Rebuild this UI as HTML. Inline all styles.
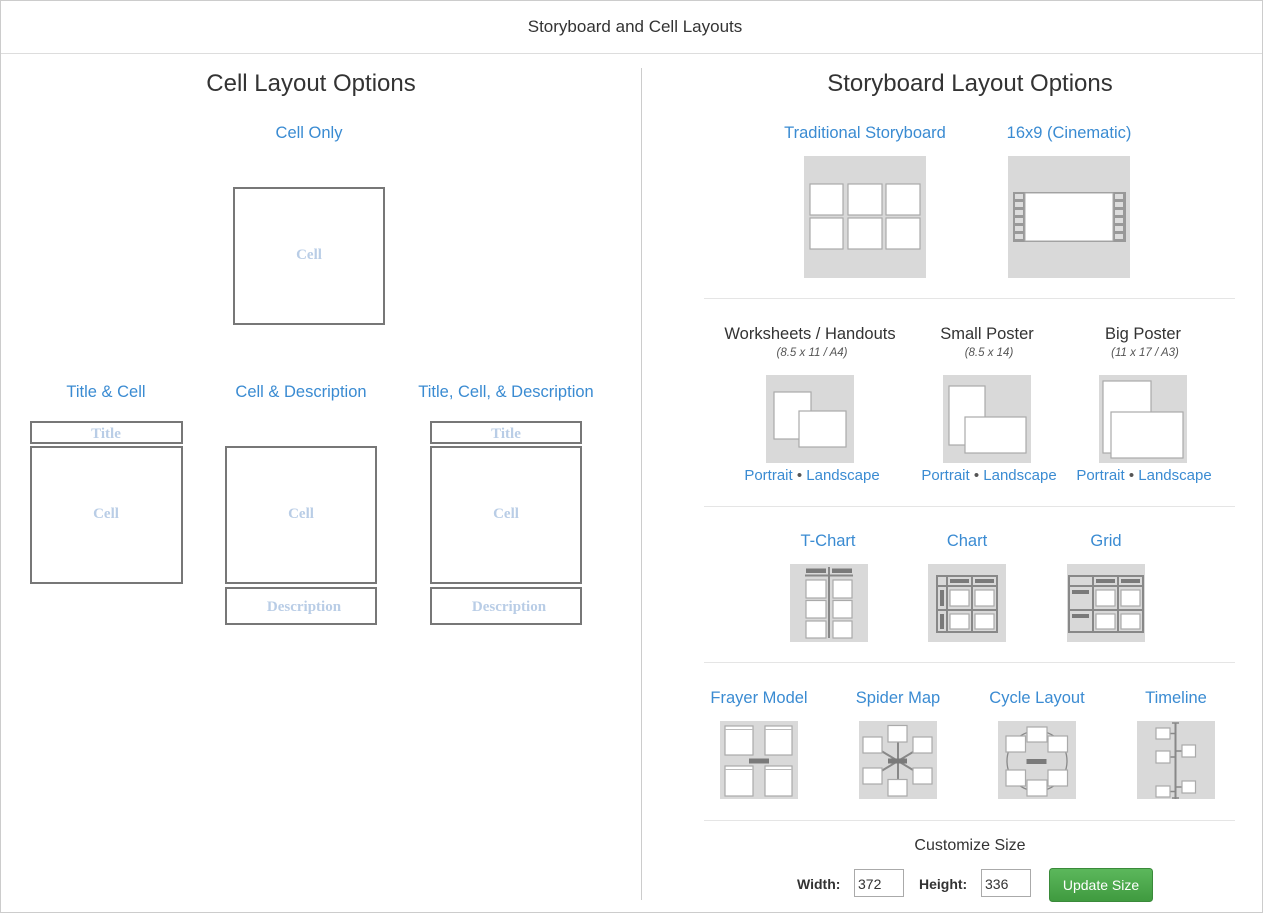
<!DOCTYPE html>
<html><head><meta charset="utf-8"><style>
html,body{margin:0;padding:0;background:#fff;}
svg{display:block;font-family:"Liberation Sans",sans-serif;}
.b{fill:#3a8bd2;font-size:16.5px;text-anchor:middle;}
.d{fill:#333;text-anchor:middle;}
.cl{fill:none;stroke:#777;stroke-width:2;}
.ct{fill:#b9cde6;font-family:"Liberation Serif",serif;font-weight:bold;font-size:15px;text-anchor:middle;}
.bg{fill:#d9d9d9;}
.w{fill:#fff;stroke:#aaa;stroke-width:1.2;}
.dk{fill:#7a7a7a;}
.ln{stroke:#888;stroke-width:2;fill:none;}
</style></head><body>
<svg width="1263" height="913" viewBox="0 0 1263 913">
<rect x="0.5" y="0.5" width="1262" height="912" fill="#fff" stroke="#ccc"/>
<line x1="1" y1="53.5" x2="1262" y2="53.5" stroke="#ddd"/>
<text x="635" y="32" class="d" style="font-size:17px">Storyboard and Cell Layouts</text>
<line x1="641.5" y1="68" x2="641.5" y2="900" stroke="#ccc"/>

<text x="311" y="91" class="d" style="font-size:24px">Cell Layout Options</text>
<text x="309" y="138" class="b">Cell Only</text>
<rect x="234" y="188" width="150" height="136" class="cl"/><text x="309" y="259" class="ct">Cell</text>

<text x="106" y="397" class="b">Title &amp; Cell</text>
<rect x="31" y="422" width="151" height="21" class="cl"/><text x="106" y="438" class="ct">Title</text>
<rect x="31" y="447" width="151" height="136" class="cl"/><text x="106" y="518" class="ct">Cell</text>

<text x="301" y="397" class="b">Cell &amp; Description</text>
<rect x="226" y="447" width="150" height="136" class="cl"/><text x="301" y="518" class="ct">Cell</text>
<rect x="226" y="588" width="150" height="36" class="cl"/><text x="304" y="611" class="ct">Description</text>

<text x="506" y="397" class="b">Title, Cell, &amp; Description</text>
<rect x="431" y="422" width="150" height="21" class="cl"/><text x="506" y="438" class="ct">Title</text>
<rect x="431" y="447" width="150" height="136" class="cl"/><text x="506" y="518" class="ct">Cell</text>
<rect x="431" y="588" width="150" height="36" class="cl"/><text x="509" y="611" class="ct">Description</text>

<text x="970" y="91" class="d" style="font-size:24px">Storyboard Layout Options</text>
<text x="865" y="138" class="b">Traditional Storyboard</text>
<text x="1069" y="138" class="b">16x9 (Cinematic)</text>
<rect x="804" y="156" width="122" height="122" class="bg"/>
<g class="w"><rect x="810" y="184" width="33" height="31"/><rect x="848" y="184" width="34" height="31"/><rect x="886" y="184" width="34" height="31"/>
<rect x="810" y="218" width="33" height="31"/><rect x="848" y="218" width="34" height="31"/><rect x="886" y="218" width="34" height="31"/></g>
<rect x="1008" y="156" width="122" height="122" class="bg"/>
<rect x="1013" y="192" width="113" height="50" fill="#999"/>
<g fill="#ddd"><rect x="1015" y="194" width="8" height="5"/><rect x="1015" y="202" width="8" height="5"/><rect x="1015" y="210" width="8" height="5"/><rect x="1015" y="218" width="8" height="5"/><rect x="1015" y="226" width="8" height="5"/><rect x="1015" y="234" width="8" height="5"/>
<rect x="1115" y="194" width="8" height="5"/><rect x="1115" y="202" width="8" height="5"/><rect x="1115" y="210" width="8" height="5"/><rect x="1115" y="218" width="8" height="5"/><rect x="1115" y="226" width="8" height="5"/><rect x="1115" y="234" width="8" height="5"/></g>
<rect x="1025" y="193" width="88" height="48" fill="#fff" stroke="#aaa"/>

<line x1="704" y1="298.5" x2="1235" y2="298.5" stroke="#e5e5e5"/>

<text x="810" y="339" class="d" style="font-size:16.5px">Worksheets / Handouts</text>
<text x="812" y="356" class="d" style="font-size:11.5px;font-style:italic;fill:#555">(8.5 x 11 / A4)</text>
<text x="987" y="339" class="d" style="font-size:16.5px">Small Poster</text>
<text x="989" y="356" class="d" style="font-size:11.5px;font-style:italic;fill:#555">(8.5 x 14)</text>
<text x="1143" y="339" class="d" style="font-size:16.5px">Big Poster</text>
<text x="1145" y="356" class="d" style="font-size:11.5px;font-style:italic;fill:#555">(11 x 17 / A3)</text>
<rect x="766" y="375" width="88" height="88" class="bg"/>
<rect x="774" y="392" width="37" height="47" class="w"/><rect x="799" y="411" width="47" height="36" class="w"/>
<rect x="943" y="375" width="88" height="88" class="bg"/>
<rect x="949" y="386" width="36" height="59" class="w"/><rect x="965" y="417" width="61" height="36" class="w"/>
<rect x="1099" y="375" width="88" height="88" class="bg"/>
<rect x="1103" y="381" width="48" height="72" class="w"/><rect x="1111" y="412" width="72" height="46" class="w"/>
<text x="812" y="480" class="b" style="font-size:15px">Portrait <tspan fill="#555">•</tspan> Landscape</text>
<text x="989" y="480" class="b" style="font-size:15px">Portrait <tspan fill="#555">•</tspan> Landscape</text>
<text x="1144" y="480" class="b" style="font-size:15px">Portrait <tspan fill="#555">•</tspan> Landscape</text>

<line x1="704" y1="506.5" x2="1235" y2="506.5" stroke="#e5e5e5"/>

<text x="828" y="546" class="b">T-Chart</text>
<text x="967" y="546" class="b">Chart</text>
<text x="1106" y="546" class="b">Grid</text>
<g transform="translate(790,564)">
<rect width="78" height="78" class="bg"/>
<rect x="16" y="4.5" width="20" height="4.5" class="dk"/><rect x="42" y="4.5" width="20" height="4.5" class="dk"/>
<line x1="15" y1="11.5" x2="63" y2="11.5" class="ln"/><line x1="39" y1="3" x2="39" y2="74" class="ln"/>
<g class="w"><rect x="16" y="16" width="20" height="18"/><rect x="43" y="16" width="19" height="18"/>
<rect x="16" y="36.5" width="20" height="17.5"/><rect x="43" y="36.5" width="19" height="17.5"/>
<rect x="16" y="57" width="20" height="17"/><rect x="43" y="57" width="19" height="17"/></g>
</g>
<g transform="translate(928,564)">
<rect width="78" height="78" class="bg"/>
<rect x="9" y="12" width="60" height="56" fill="none" stroke="#888" stroke-width="2"/>
<line x1="19" y1="12" x2="19" y2="68" class="ln"/><line x1="44" y1="12" x2="44" y2="68" class="ln"/>
<line x1="9" y1="22" x2="69" y2="22" class="ln"/><line x1="9" y1="46" x2="69" y2="46" class="ln"/>
<rect x="22" y="15" width="19" height="4" class="dk"/><rect x="47" y="15" width="19" height="4" class="dk"/>
<rect x="12" y="26" width="4" height="16" class="dk"/><rect x="12" y="50" width="4" height="15" class="dk"/>
<g class="w"><rect x="22" y="26" width="19" height="16"/><rect x="47" y="26" width="19" height="16"/><rect x="22" y="50" width="19" height="15"/><rect x="47" y="50" width="19" height="15"/></g>
</g>
<g transform="translate(1067,564)">
<rect width="78" height="78" class="bg"/>
<rect x="2" y="12" width="74" height="56" fill="none" stroke="#888" stroke-width="2"/>
<line x1="26" y1="12" x2="26" y2="68" class="ln"/><line x1="51" y1="12" x2="51" y2="68" class="ln"/>
<line x1="2" y1="22" x2="76" y2="22" class="ln"/><line x1="2" y1="46" x2="76" y2="46" class="ln"/>
<rect x="29" y="15" width="19" height="4" class="dk"/><rect x="54" y="15" width="19" height="4" class="dk"/>
<rect x="5" y="26" width="17" height="4" class="dk"/><rect x="5" y="50" width="17" height="4" class="dk"/>
<g class="w"><rect x="29" y="26" width="19" height="16"/><rect x="54" y="26" width="19" height="16"/><rect x="29" y="50" width="19" height="15"/><rect x="54" y="50" width="19" height="15"/></g>
</g>

<line x1="704" y1="662.5" x2="1235" y2="662.5" stroke="#e5e5e5"/>

<text x="759" y="703" class="b">Frayer Model</text>
<text x="898" y="703" class="b">Spider Map</text>
<text x="1037" y="703" class="b">Cycle Layout</text>
<text x="1176" y="703" class="b">Timeline</text>
<g transform="translate(720,721)">
<rect width="78" height="78" class="bg"/>
<g class="w"><rect x="5" y="5" width="28" height="29"/><rect x="45" y="5" width="27" height="29"/><rect x="5" y="45" width="28" height="30"/><rect x="45" y="45" width="27" height="30"/></g>
<g stroke="#bbb"><line x1="5" y1="8.5" x2="33" y2="8.5"/><line x1="45" y1="8.5" x2="72" y2="8.5"/><line x1="5" y1="48.5" x2="33" y2="48.5"/><line x1="45" y1="48.5" x2="72" y2="48.5"/></g>
<rect x="29" y="37.5" width="20" height="5" class="dk"/>
</g>
<g transform="translate(859,721)">
<rect width="78" height="78" class="bg"/>
<g class="ln"><line x1="39" y1="12" x2="39" y2="68"/><line x1="14" y1="25" x2="64" y2="55"/><line x1="14" y1="55" x2="64" y2="25"/></g>
<rect x="29" y="37.5" width="19" height="5" class="dk"/>
<g class="w"><rect x="29" y="4.5" width="19" height="16.5"/><rect x="29" y="58.5" width="19" height="16.5"/>
<rect x="4" y="16" width="19" height="16"/><rect x="4" y="47" width="19" height="16"/><rect x="54" y="16" width="19" height="16"/><rect x="54" y="47" width="19" height="16"/></g>
</g>
<g transform="translate(998,721)">
<rect width="78" height="78" class="bg"/>
<circle cx="39" cy="40" r="30" fill="none" stroke="#888" stroke-width="1.3"/>
<rect x="28.5" y="38" width="20" height="5" class="dk"/>
<g class="w"><rect x="29" y="6" width="20" height="15"/><rect x="29" y="59" width="20" height="16"/>
<rect x="8" y="15" width="19.5" height="16"/><rect x="8" y="49" width="19.5" height="16"/><rect x="50" y="15" width="19.5" height="16"/><rect x="50" y="49" width="19.5" height="16"/></g>
</g>
<g transform="translate(1137,721)">
<rect width="78" height="78" class="bg"/>
<line x1="38.5" y1="2" x2="38.5" y2="78" stroke="#888" stroke-width="2"/>
<line x1="35" y1="2" x2="42" y2="2" stroke="#888" stroke-width="1.5"/><line x1="35" y1="77" x2="42" y2="77" stroke="#888" stroke-width="1.5"/>
<g stroke="#888" stroke-width="1.5"><line x1="33" y1="12.5" x2="39" y2="12.5"/><line x1="33" y1="36" x2="39" y2="36"/><line x1="33" y1="70.5" x2="39" y2="70.5"/><line x1="39" y1="30" x2="45" y2="30"/><line x1="39" y1="66" x2="45" y2="66"/></g>
<g class="w"><rect x="19" y="7" width="14" height="11"/><rect x="19" y="30" width="14" height="12"/><rect x="19" y="65" width="14" height="11"/><rect x="45" y="24" width="13.5" height="12"/><rect x="45" y="60" width="13.5" height="12"/></g>
</g>

<line x1="704" y1="820.5" x2="1235" y2="820.5" stroke="#e5e5e5"/>
<text x="970" y="850" class="d" style="font-size:16px">Customize Size</text>
<text x="797" y="889" style="font-size:14px;font-weight:bold;fill:#333">Width:</text>
<rect x="854.5" y="869.5" width="49" height="27" fill="#fff" stroke="#aaa"/>
<text x="858" y="889" style="font-size:14px;fill:#333">372</text>
<text x="919" y="889" style="font-size:14px;font-weight:bold;fill:#333">Height:</text>
<rect x="981.5" y="869.5" width="49" height="27" fill="#fff" stroke="#aaa"/>
<text x="985" y="889" style="font-size:14px;fill:#333">336</text>
<defs><linearGradient id="g" x1="0" y1="0" x2="0" y2="1"><stop offset="0" stop-color="#5cb85c"/><stop offset="1" stop-color="#3f9a3f"/></linearGradient></defs>
<rect x="1049.5" y="868.5" width="103" height="33" rx="3" fill="url(#g)" stroke="#3a8a3a"/>
<text x="1101" y="890" style="font-size:14px;fill:#fff;text-anchor:middle">Update Size</text>
</svg>
</body></html>
